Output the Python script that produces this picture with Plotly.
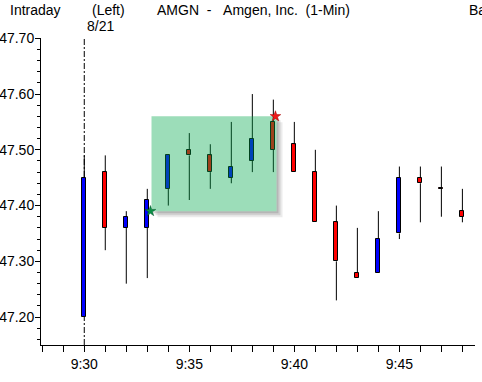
import plotly.graph_objects as go

# ---------------- data ----------------
times = ["9:30", "9:31", "9:32", "9:33", "9:34", "9:35", "9:36", "9:37", "9:38", "9:39",
         "9:40", "9:41", "9:42", "9:43", "9:44", "9:45", "9:46", "9:47", "9:48"]
opens = [47.20, 47.46, 47.36, 47.36, 47.43, 47.50, 47.49, 47.45, 47.48, 47.55,
         47.51, 47.46, 47.37, 47.28, 47.28, 47.35, 47.45, 47.43, 47.39]
highs = [47.49, 47.49, 47.39, 47.43, 47.49, 47.53, 47.51, 47.55, 47.60, 47.59,
         47.55, 47.50, 47.40, 47.36, 47.39, 47.47, 47.47, 47.47, 47.43]
lows = [47.20, 47.32, 47.26, 47.27, 47.40, 47.41, 47.43, 47.44, 47.46, 47.46,
        47.46, 47.37, 47.23, 47.27, 47.28, 47.34, 47.37, 47.38, 47.37]
closes = [47.45, 47.36, 47.38, 47.41, 47.49, 47.49, 47.46, 47.47, 47.52, 47.50,
          47.46, 47.37, 47.30, 47.27, 47.34, 47.45, 47.44, 47.43, 47.38]
tick_labels = ["9:30", "9:35", "9:40", "9:45"]
session_date = "8/21"
# highlighted region (start / end points, minutes after midnight, price)
box_times = [573.2, 579.15]
box_prices = [47.39, 47.56]
title_parts = ["Intraday", "(Left)",
               "AMGN\u00a0\u00a0-\u00a0\u00a0\u00a0Amgen,\u00a0Inc.\u00a0\u00a0(1-Min)", "Ba"]


def to_min(t):
    h, m = t.split(":")
    return int(h) * 60 + int(m)


xs = [to_min(t) for t in times]
tick_vals = [to_min(t) for t in tick_labels]

# ---------------- layout geometry ----------------
W, H = 482, 382
ML, MR, MT, MB = 41, 7, 38, 37
PW, PH = W - ML - MR, H - MT - MB
x_range = [567.94, 588.6]
y_range = [47.15, 47.7005]
px_x = (x_range[1] - x_range[0]) / PW
px_y = (y_range[1] - y_range[0]) / PH

FONT = "Liberation Sans"
UP, DOWN = "#0000ff", "#ff0000"

fig = go.Figure()

# bodies
body_base = [min(o, c) for o, c in zip(opens, closes)]
body_h = [max(abs(c - o), 0.0015) for o, c in zip(opens, closes)]
body_col = [UP if c > o else DOWN for o, c in zip(opens, closes)]
fig.add_trace(go.Bar(x=xs, y=body_h, base=body_base, width=0.19,
                     marker=dict(color=body_col, line=dict(color="black", width=1)),
                     hoverinfo="skip", showlegend=False))

# wicks (upper and lower separately so they don't cross bodies)
wx, wy = [], []
for x, o, h, l, c in zip(xs, opens, highs, lows, closes):
    top, bot = max(o, c), min(o, c)
    if h > top:
        wx += [x, x, None]
        wy += [top, h, None]
    if l < bot:
        wx += [x, x, None]
        wy += [l, bot, None]
fig.add_trace(go.Scatter(x=wx, y=wy, mode="lines", line=dict(color="black", width=1),
                         hoverinfo="skip", showlegend=False))

# shadow of highlight box
xl, xr = box_times
yb, yt = box_prices
for d, op in [(6, 0.10), (4, 0.14), (2, 0.18)]:
    sx = [xr, xr + d * px_x, xr + d * px_x, xl + d * px_x, xl + d * px_x, xr, xr]
    sy = [yt - d * px_y, yt - d * px_y, yb - d * px_y, yb - d * px_y, yb, yb, yt - d * px_y]
    fig.add_trace(go.Scatter(x=sx, y=sy, mode="lines", fill="toself",
                             fillcolor=f"rgba(60,60,60,{op})", line=dict(width=0),
                             hoverinfo="skip", showlegend=False))

# highlight box
fig.add_trace(go.Scatter(x=[xl, xr, xr, xl, xl], y=[yb, yb, yt, yt, yb], mode="lines",
                         fill="toself", fillcolor="rgba(0,167,74,0.39)", line=dict(width=0),
                         hoverinfo="skip", showlegend=False))

# start / end stars
fig.add_trace(go.Scatter(x=[xl - 0.05, xr - 0.05], y=[yb, yt], mode="markers",
                         marker=dict(symbol="star", size=8, color=["#0a8f45", "#f01818"],
                                     line=dict(color=["#04502a", "#a00000"], width=0.5)),
                         hoverinfo="skip", showlegend=False))

# session separator
fig.add_shape(type="line", x0=xs[0], x1=xs[0], xref="x", y0=0, y1=1, yref="paper",
              line=dict(color="black", width=1, dash="6px,2px,2px,2px"), layer="below")

# date label
fig.add_annotation(x=xs[0], xref="x", y=1, yref="paper", text=session_date, showarrow=False,
                   xanchor="left", yanchor="bottom", xshift=1, yshift=2,
                   font=dict(family=FONT, size=14, color="black"))

# header texts
for txt, px in zip(title_parts, [8, 90, 155, 467]):
    fig.add_annotation(x=0, xref="paper", y=1, yref="paper", text=txt, showarrow=False,
                       xanchor="left", yanchor="middle", xshift=px - ML, yshift=MT - 10,
                       font=dict(family=FONT, size=14, color="black"))

fig.update_layout(
    width=W, height=H, margin=dict(l=ML, r=MR, t=MT, b=MB, autoexpand=False),
    paper_bgcolor="white", plot_bgcolor="white",
    font=dict(family=FONT, size=14, color="black"),
    showlegend=False, bargap=0,
    xaxis=dict(range=x_range, showgrid=False, zeroline=False, showline=True, automargin=False,
               linecolor="black", linewidth=1, ticks="outside", ticklen=6, tickcolor="black",
               tickvals=tick_vals, ticktext=tick_labels,
               tickfont=dict(family=FONT, size=14),
               minor=dict(dtick=1, tick0=0, ticks="outside", ticklen=6, tickcolor="black",
                          showgrid=False)),
    yaxis=dict(range=y_range, showgrid=False, zeroline=False, showline=True, automargin=False,
               linecolor="black", linewidth=1, ticks="outside", ticklen=5, tickcolor="black",
               tick0=47.0, dtick=0.1, tickformat=".2f", ticklabelstandoff=-2,
               tickfont=dict(family=FONT, size=14),
               minor=dict(dtick=0.02, tick0=47.0, ticks="outside", ticklen=3,
                          tickcolor="black", showgrid=False)),
)

fig.write_html("out.html", config={"displayModeBar": False},
               post_script="document.body.style.margin='0';")
